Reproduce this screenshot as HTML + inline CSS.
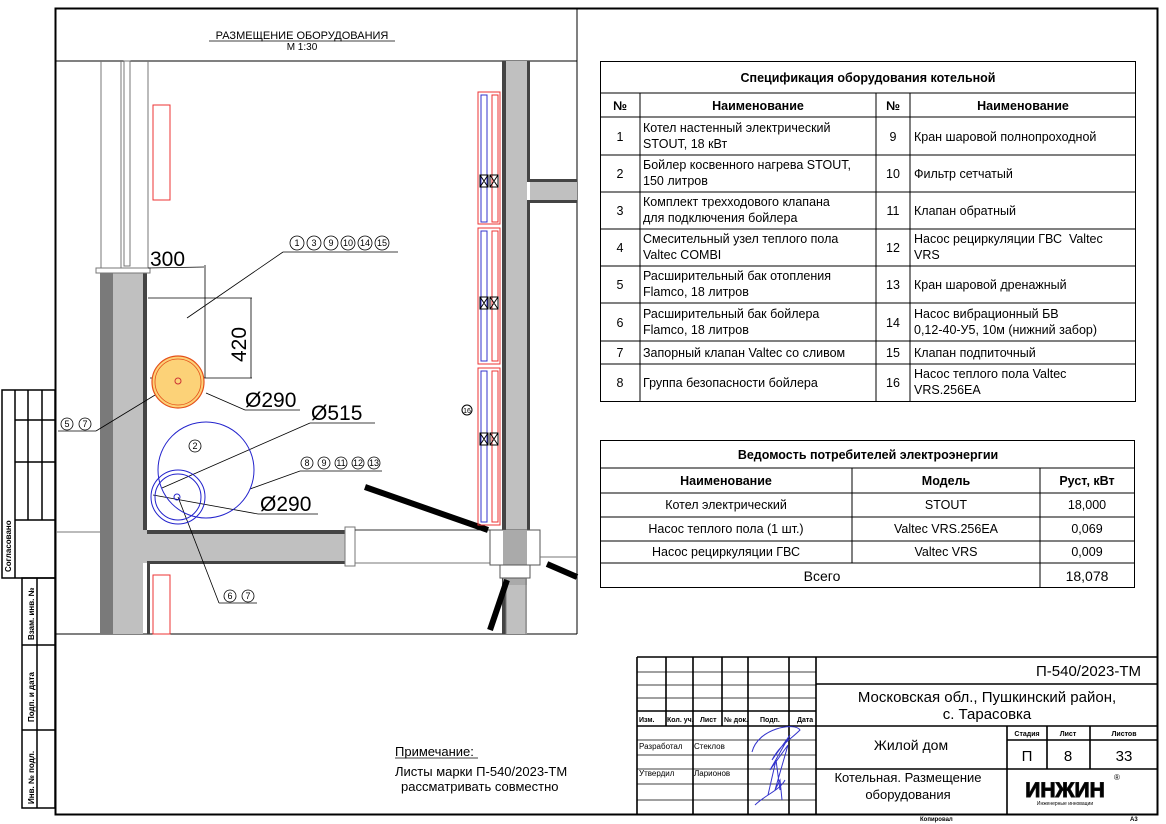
<!DOCTYPE html>
<html><head><meta charset="utf-8"><style>
html,body{margin:0;padding:0;background:#fff}
svg{display:block}
text{font-family:"Liberation Sans",sans-serif;fill:#000}
</style></head><body>
<svg width="1166" height="824" viewBox="0 0 1166 824" xmlns="http://www.w3.org/2000/svg">
<rect x="55.5" y="8.5" width="1102" height="806" fill="none" stroke="#000" stroke-width="2"/>
<g stroke="#000" stroke-width="1.5" fill="none">
<rect x="2" y="390" width="53" height="188"/>
<line x1="15" y1="390" x2="15" y2="578"/>
<line x1="28" y1="390" x2="28" y2="520"/>
<line x1="42" y1="390" x2="42" y2="520"/>
<line x1="15" y1="420" x2="55" y2="420"/>
<line x1="15" y1="462" x2="55" y2="462"/>
<line x1="15" y1="520" x2="55" y2="520"/>
<rect x="22" y="578" width="33" height="230"/>
<line x1="37" y1="578" x2="37" y2="808"/>
<line x1="22" y1="645" x2="55" y2="645"/>
<line x1="22" y1="730" x2="55" y2="730"/>
</g>
<g font-size="8" font-weight="bold">
<text transform="translate(11,572) rotate(-90)">Согласовано</text>
<text transform="translate(34,640) rotate(-90)">Взам. инв. №</text>
<text transform="translate(34,722) rotate(-90)">Подп. и дата</text>
<text transform="translate(34,804) rotate(-90)">Инв. № подл.</text>
</g>

<text x="302" y="39" font-size="11" text-anchor="middle">РАЗМЕЩЕНИЕ ОБОРУДОВАНИЯ</text>
<line x1="209" y1="41" x2="395" y2="41" stroke="#000" stroke-width="0.8"/>
<text x="302" y="50" font-size="10" text-anchor="middle">М 1:30</text>

<g stroke="#000" stroke-width="1" fill="none">
<line x1="56" y1="61" x2="577" y2="61"/>
<line x1="577" y1="8" x2="577" y2="634"/>
<line x1="56" y1="634" x2="577" y2="634"/>
</g>
<g stroke="#777" stroke-width="1" fill="none">
<line x1="101" y1="61" x2="101" y2="268"/>
<line x1="148" y1="61" x2="148" y2="268"/>
<rect x="124" y="61" width="6" height="205"/>
<line x1="121" y1="61" x2="121" y2="268"/>
<line x1="56" y1="532" x2="100" y2="532"/>
</g>
<rect x="153" y="105" width="17" height="95" fill="none" stroke="#e33" stroke-width="1"/>
<rect x="153" y="575" width="17" height="59" fill="none" stroke="#e33" stroke-width="1"/>

<rect x="100" y="272" width="13" height="362" fill="#7a7a7a"/>
<rect x="113" y="272" width="30" height="362" fill="#c0c0c0"/>
<rect x="143" y="272" width="4" height="258" fill="#444"/>
<rect x="96" y="268" width="54" height="5" fill="#fff" stroke="#777"/>
<rect x="143" y="530" width="205" height="33" fill="#c0c0c0"/>
<rect x="147" y="530" width="200" height="4" fill="#444"/>
<rect x="147" y="561" width="200" height="3" fill="#444"/>
<rect x="147" y="561" width="3" height="73" fill="#444"/>
<rect x="345" y="527" width="10" height="39" fill="#fff" stroke="#777"/>
<line x1="355" y1="530" x2="502" y2="530" stroke="#333"/>
<line x1="355" y1="563" x2="502" y2="563" stroke="#777"/>

<rect x="503" y="61" width="24" height="573" fill="#c0c0c0"/>
<rect x="502" y="61" width="4" height="573" fill="#444"/>
<rect x="527" y="61" width="3" height="121" fill="#444"/>
<rect x="527" y="200" width="3" height="330" fill="#444"/>
<rect x="530" y="182" width="47" height="18" fill="#c0c0c0"/>
<rect x="530" y="179" width="47" height="3" fill="#444"/>
<rect x="530" y="200" width="47" height="3" fill="#444"/>
<rect x="490" y="530" width="50" height="35" fill="#fff" stroke="#555"/>
<rect x="503" y="530" width="24" height="55" fill="#aaa"/>
<rect x="500" y="565" width="30" height="13" fill="#fff" stroke="#555"/>
<line x1="506" y1="578" x2="506" y2="634" stroke="#777"/>
<line x1="526" y1="578" x2="526" y2="634" stroke="#777"/>
<line x1="540" y1="557" x2="577" y2="557" stroke="#777"/>

<line x1="365" y1="487" x2="488" y2="530" stroke="#000" stroke-width="6"/>
<line x1="547" y1="564" x2="577" y2="577" stroke="#000" stroke-width="6"/>
<line x1="507" y1="580" x2="490" y2="630" stroke="#000" stroke-width="6"/>

<g fill="none" stroke-width="1">
<rect x="478" y="92" width="22" height="132" stroke="#e33"/>
<rect x="481" y="95" width="6" height="127" stroke="#33c"/>
<rect x="492" y="95" width="6" height="127" stroke="#e33"/>
<rect x="478" y="228" width="22" height="136" stroke="#e33"/>
<rect x="481" y="231" width="6" height="130" stroke="#33c"/>
<rect x="492" y="231" width="6" height="130" stroke="#e33"/>
<rect x="478" y="368" width="22" height="157" stroke="#e33"/>
<rect x="481" y="371" width="6" height="151" stroke="#33c"/>
<rect x="492" y="371" width="6" height="151" stroke="#e33"/>
<path d="M480 175h8v12h-8zM480 175l8 12M488 175l-8 12M490 175h8v12h-8zM490 175l8 12M498 175l-8 12" stroke="#000"/>
<path d="M480 297h8v12h-8zM480 297l8 12M488 297l-8 12M490 297h8v12h-8zM490 297l8 12M498 297l-8 12" stroke="#000"/>
<path d="M480 433h8v12h-8zM480 433l8 12M488 433l-8 12M490 433h8v12h-8zM490 433l8 12M498 433l-8 12" stroke="#000"/>
</g>
<circle cx="467" cy="410" r="5" fill="none" stroke="#000"/>
<text x="467" y="413" font-size="7" text-anchor="middle">16</text>

<g stroke="#000" stroke-width="0.8" fill="none">
<line x1="148" y1="268" x2="204" y2="267"/>
<line x1="205" y1="265" x2="205" y2="378"/>
<line x1="148" y1="298" x2="252" y2="298"/>
<line x1="251" y1="298" x2="251" y2="378"/>
<line x1="150" y1="378" x2="252" y2="378"/>
<line x1="187" y1="318" x2="283" y2="252"/>
<line x1="283" y1="252" x2="398" y2="252"/>
<line x1="206" y1="393" x2="245" y2="410"/>
<line x1="245" y1="410" x2="300" y2="410"/>
<line x1="162" y1="488" x2="310" y2="423"/>
<line x1="310" y1="423" x2="375" y2="423"/>
<line x1="250" y1="489" x2="300" y2="471"/>
<line x1="300" y1="471" x2="382" y2="471"/>
<line x1="153" y1="495" x2="258" y2="514"/>
<line x1="258" y1="514" x2="318" y2="514"/>
<line x1="178" y1="497" x2="219" y2="603"/>
<line x1="219" y1="603" x2="257" y2="603"/>
<line x1="178" y1="381" x2="96" y2="431"/>
<line x1="58" y1="431" x2="96" y2="431"/>
</g>
<text x="150" y="266" font-size="21">300</text>
<text transform="translate(246,362) rotate(-90)" font-size="21">420</text>
<text x="245" y="407" font-size="21">Ø290</text>
<text x="311" y="420" font-size="21">Ø515</text>
<text x="260" y="511" font-size="21">Ø290</text>

<circle cx="178" cy="382" r="26" fill="#fcd278" stroke="#e5501a" stroke-width="1.2"/>
<circle cx="178" cy="382" r="23" fill="none" stroke="#e5501a" stroke-width="0.8"/>
<circle cx="178" cy="381" r="3" fill="none" stroke="#c33"/>
<circle cx="206" cy="470" r="48" fill="none" stroke="#22c" stroke-width="1"/>
<circle cx="178" cy="497" r="27" fill="none" stroke="#22c" stroke-width="1"/>
<circle cx="178" cy="497" r="23" fill="none" stroke="#22c" stroke-width="1"/>
<circle cx="177" cy="497" r="3" fill="none" stroke="#22c"/>

<g font-size="8" text-anchor="middle" fill="none" stroke="#000" stroke-width="0.8">
<circle cx="297" cy="243" r="7"/><circle cx="314" cy="243" r="7"/><circle cx="331" cy="243" r="7"/><circle cx="348" cy="243" r="7"/><circle cx="365" cy="243" r="7"/><circle cx="382" cy="243" r="7"/>
<circle cx="67" cy="424" r="6"/><circle cx="85" cy="424" r="6"/>
<circle cx="195" cy="446" r="6"/>
<circle cx="307" cy="463" r="6"/><circle cx="324" cy="463" r="6"/><circle cx="341" cy="463" r="6"/><circle cx="358" cy="463" r="6"/><circle cx="374" cy="463" r="6"/>
<circle cx="230" cy="596" r="6"/><circle cx="248" cy="596" r="6"/>
</g>
<g font-size="9" text-anchor="middle">
<text x="297" y="246">1</text><text x="314" y="246">3</text><text x="331" y="246">9</text><text x="348" y="246">10</text><text x="365" y="246">14</text><text x="382" y="246">15</text>
<text x="67" y="427">5</text><text x="85" y="427">7</text>
<text x="195" y="449">2</text>
<text x="307" y="466">8</text><text x="324" y="466">9</text><text x="341" y="466">11</text><text x="358" y="466">12</text><text x="374" y="466">13</text>
<text x="230" y="599">6</text><text x="248" y="599">7</text>
</g>

<g stroke="#000" stroke-width="1" fill="none">
<rect x="600.5" y="61.5" width="535" height="340"/>
<line x1="600" y1="93" x2="1136" y2="93"/>
<line x1="600" y1="117" x2="1136" y2="117"/>
<line x1="600" y1="155" x2="1136" y2="155"/>
<line x1="600" y1="192" x2="1136" y2="192"/>
<line x1="600" y1="229" x2="1136" y2="229"/>
<line x1="600" y1="266" x2="1136" y2="266"/>
<line x1="600" y1="303" x2="1136" y2="303"/>
<line x1="600" y1="341" x2="1136" y2="341"/>
<line x1="600" y1="364" x2="1136" y2="364"/>
<line x1="640" y1="93" x2="640" y2="402"/>
<line x1="876" y1="93" x2="876" y2="402"/>
<line x1="910" y1="93" x2="910" y2="402"/>
</g>
<g font-size="12.5">
<text x="868" y="82" text-anchor="middle" font-weight="bold">Спецификация оборудования котельной</text>
<text x="620" y="110" text-anchor="middle" font-weight="bold">№</text>
<text x="758" y="110" text-anchor="middle" font-weight="bold">Наименование</text>
<text x="893" y="110" text-anchor="middle" font-weight="bold">№</text>
<text x="1023" y="110" text-anchor="middle" font-weight="bold">Наименование</text>
<g text-anchor="middle">
<text x="620" y="141">1</text><text x="620" y="178">2</text><text x="620" y="215">3</text><text x="620" y="252">4</text><text x="620" y="289">5</text><text x="620" y="327">6</text><text x="620" y="357">7</text><text x="620" y="387">8</text>
<text x="893" y="141">9</text><text x="893" y="178">10</text><text x="893" y="215">11</text><text x="893" y="252">12</text><text x="893" y="289">13</text><text x="893" y="327">14</text><text x="893" y="357">15</text><text x="893" y="387">16</text>
</g>
<text x="643" y="132">Котел настенный электрический</text><text x="643" y="148">STOUT, 18 кВт</text>
<text x="643" y="169">Бойлер косвенного нагрева STOUT,</text><text x="643" y="185">150 литров</text>
<text x="643" y="206">Комплект трехходового клапана</text><text x="643" y="222">для подключения бойлера</text>
<text x="643" y="243">Смесительный узел теплого пола</text><text x="643" y="259">Valtec COMBI</text>
<text x="643" y="280">Расширительный бак отопления</text><text x="643" y="296">Flamco, 18 литров</text>
<text x="643" y="318">Расширительный бак бойлера</text><text x="643" y="334">Flamco, 18 литров</text>
<text x="643" y="357">Запорный клапан Valtec со сливом</text>
<text x="643" y="387">Группа безопасности бойлера</text>
<text x="914" y="141">Кран шаровой полнопроходной</text>
<text x="914" y="178">Фильтр сетчатый</text>
<text x="914" y="215">Клапан обратный</text>
<text x="914" y="243" xml:space="preserve">Насос рециркуляции ГВС  Valtec</text><text x="914" y="259">VRS</text>
<text x="914" y="289">Кран шаровой дренажный</text>
<text x="914" y="318">Насос вибрационный БВ</text><text x="914" y="334">0,12-40-У5, 10м (нижний забор)</text>
<text x="914" y="357">Клапан подпиточный</text>
<text x="914" y="378">Насос теплого пола Valtec</text><text x="914" y="394">VRS.256EA</text>
</g>

<g stroke="#000" stroke-width="1" fill="none">
<rect x="600.5" y="440.5" width="534" height="147"/>
<line x1="600" y1="468" x2="1135" y2="468"/>
<line x1="600" y1="493" x2="1135" y2="493"/>
<line x1="600" y1="517" x2="1135" y2="517"/>
<line x1="600" y1="541" x2="1135" y2="541"/>
<line x1="600" y1="563" x2="1135" y2="563"/>
<line x1="852" y1="468" x2="852" y2="563"/>
<line x1="1040" y1="468" x2="1040" y2="588"/>
</g>
<g font-size="12.5" text-anchor="middle">
<text x="868" y="459" font-weight="bold">Ведомость потребителей электроэнергии</text>
<text x="726" y="485" font-weight="bold">Наименование</text>
<text x="946" y="485" font-weight="bold">Модель</text>
<text x="1087" y="485" font-weight="bold">Руст, кВт</text>
<text x="726" y="509">Котел электрический</text><text x="946" y="509">STOUT</text><text x="1087" y="509">18,000</text>
<text x="726" y="533">Насос теплого пола (1 шт.)</text><text x="946" y="533">Valtec VRS.256EA</text><text x="1087" y="533">0,069</text>
<text x="726" y="556">Насос рециркуляции ГВС</text><text x="946" y="556">Valtec VRS</text><text x="1087" y="556">0,009</text>
<text x="822" y="581" font-size="14">Всего</text><text x="1087" y="581" font-size="14">18,078</text>
</g>

<text x="395" y="756" font-size="13">Примечание:</text>
<line x1="395" y1="758" x2="478" y2="758" stroke="#000" stroke-width="0.8"/>
<text x="395" y="776" font-size="13">Листы марки П-540/2023-ТМ</text>
<text x="401" y="791" font-size="13">рассматривать совместно</text>

<g stroke="#000" stroke-width="1.6" fill="none">
<line x1="637" y1="657" x2="1158" y2="657"/>
<line x1="637" y1="657" x2="637" y2="815"/>
<line x1="816" y1="657" x2="816" y2="815"/>
<line x1="637" y1="726" x2="1158" y2="726"/>
<line x1="637" y1="711" x2="816" y2="711"/>
<line x1="816" y1="684" x2="1158" y2="684"/>
<line x1="816" y1="769" x2="1158" y2="769"/>
<line x1="1007" y1="726" x2="1007" y2="815"/>
<line x1="1047" y1="726" x2="1047" y2="769"/>
<line x1="1090" y1="726" x2="1090" y2="769"/>
<line x1="1007" y1="740" x2="1158" y2="740"/>
<line x1="666" y1="657" x2="666" y2="726"/>
<line x1="693" y1="657" x2="693" y2="815"/>
<line x1="722" y1="657" x2="722" y2="726"/>
<line x1="748" y1="657" x2="748" y2="815"/>
<line x1="789" y1="657" x2="789" y2="815"/>
</g>
<g stroke="#000" stroke-width="0.8">
<line x1="637" y1="672" x2="816" y2="672"/>
<line x1="637" y1="685" x2="816" y2="685"/>
<line x1="637" y1="698" x2="816" y2="698"/>
<line x1="637" y1="740" x2="816" y2="740"/>
<line x1="637" y1="755" x2="816" y2="755"/>
<line x1="637" y1="769" x2="816" y2="769"/>
<line x1="637" y1="784" x2="816" y2="784"/>
<line x1="637" y1="800" x2="816" y2="800"/>
</g>
<g font-size="7" font-weight="bold">
<text x="639" y="722">Изм.</text><text x="667" y="722">Кол. уч.</text><text x="700" y="722">Лист</text><text x="724" y="722">№ док.</text><text x="760" y="722">Подп.</text><text x="797" y="722">Дата</text>
<text x="639" y="749" font-weight="normal" font-size="8">Разработал</text><text x="694" y="749" font-size="8" font-weight="normal">Стеклов</text>
<text x="639" y="776" font-size="8" font-weight="normal">Утвердил</text><text x="694" y="776" font-size="8" font-weight="normal">Ларионов</text>
</g>
<path d="M752 752 C758 728,795 722,800 730 C790 740,780 745,772 760 L790 735 L770 770 L788 745 L775 790 L780 780 L782 800 M755 805 C765 795,780 790,785 780 M768 795 L776 760 L780 790" stroke="#33c" fill="none" stroke-width="1"/>
<text x="1141" y="676" font-size="15" text-anchor="end">П-540/2023-ТМ</text>
<text x="987" y="702" font-size="15" text-anchor="middle">Московская обл., Пушкинский район,</text>
<text x="987" y="719" font-size="15" text-anchor="middle">с. Тарасовка</text>
<text x="911" y="750" font-size="14" text-anchor="middle">Жилой дом</text>
<text x="908" y="782" font-size="13" text-anchor="middle">Котельная. Размещение</text>
<text x="908" y="799" font-size="13" text-anchor="middle">оборудования</text>
<g font-size="7" font-weight="bold" text-anchor="middle">
<text x="1027" y="736">Стадия</text><text x="1068" y="736">Лист</text><text x="1124" y="736">Листов</text>
</g>
<g font-size="15" text-anchor="middle">
<text x="1027" y="761">П</text><text x="1068" y="761">8</text><text x="1124" y="761">33</text>
</g>
<text x="1065" y="797" font-size="21" font-weight="bold" fill="#111" text-anchor="middle" stroke="#111" stroke-width="1">ИНЖИН</text>
<text x="1114" y="780" font-size="8">®</text>
<text x="1065" y="805" font-size="5" fill="#3a3" text-anchor="middle">Инженерные инновации</text>
<text x="920" y="821" font-size="6" font-weight="bold">Копировал</text>
<text x="1130" y="821" font-size="6" font-weight="bold">А3</text>
</svg>
</body></html>
